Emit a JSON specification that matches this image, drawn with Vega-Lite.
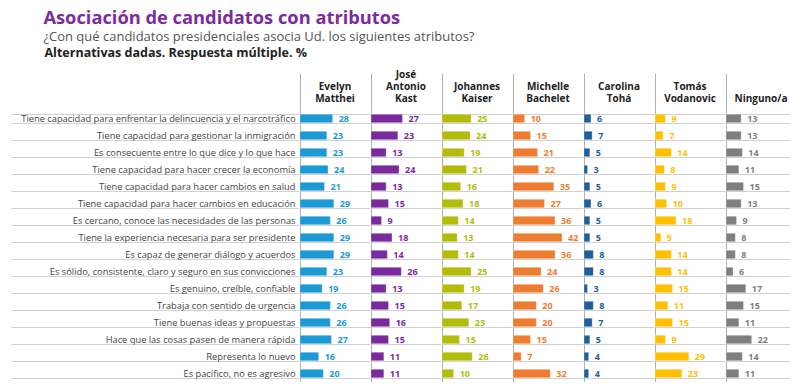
{
  "$schema": "https://vega.github.io/schema/vega-lite/v6.json",
  "padding": {"left": 10, "top": 8, "right": 0, "bottom": 0},
  "background": "white",
  "title": {
    "text": "Asociación de candidatos con atributos",
    "subtitle": ["¿Con qué candidatos presidenciales asocia Ud. los siguientes atributos?"],
    "anchor": "start",
    "dx": 33,
    "font": "Open Sans",
    "fontSize": 18.3,
    "fontWeight": "bold",
    "color": "#7B2C9E",
    "subtitleFont": "Open Sans",
    "subtitleFontSize": 13,
    "subtitleColor": "#555555",
    "subtitlePadding": 3,
    "offset": 1
  },
  "data": {"values": [
    {"a":"Tiene capacidad para enfrentar la delincuencia y el narcotráfico","c":"Evelyn Matthei","v":28},
    {"a":"Tiene capacidad para gestionar la inmigración","c":"Evelyn Matthei","v":23},
    {"a":"Es consecuente entre lo que dice y lo que hace","c":"Evelyn Matthei","v":23},
    {"a":"Tiene capacidad para hacer crecer la economía","c":"Evelyn Matthei","v":24},
    {"a":"Tiene capacidad para hacer cambios en salud","c":"Evelyn Matthei","v":21},
    {"a":"Tiene capacidad para hacer cambios en educación","c":"Evelyn Matthei","v":29},
    {"a":"Es cercano, conoce las necesidades de las personas","c":"Evelyn Matthei","v":26},
    {"a":"Tiene la experiencia necesaria para ser presidente","c":"Evelyn Matthei","v":29},
    {"a":"Es capaz de generar diálogo y acuerdos","c":"Evelyn Matthei","v":29},
    {"a":"Es sólido, consistente, claro y seguro en sus convicciones","c":"Evelyn Matthei","v":23},
    {"a":"Es genuino, creíble, confiable","c":"Evelyn Matthei","v":19},
    {"a":"Trabaja con sentido de urgencia","c":"Evelyn Matthei","v":26},
    {"a":"Tiene buenas ideas y propuestas","c":"Evelyn Matthei","v":26},
    {"a":"Hace que las cosas pasen de manera rápida","c":"Evelyn Matthei","v":27},
    {"a":"Representa lo nuevo","c":"Evelyn Matthei","v":16},
    {"a":"Es pacífico, no es agresivo","c":"Evelyn Matthei","v":20},

    {"a":"Tiene capacidad para enfrentar la delincuencia y el narcotráfico","c":"José Antonio Kast","v":27},
    {"a":"Tiene capacidad para gestionar la inmigración","c":"José Antonio Kast","v":23},
    {"a":"Es consecuente entre lo que dice y lo que hace","c":"José Antonio Kast","v":13},
    {"a":"Tiene capacidad para hacer crecer la economía","c":"José Antonio Kast","v":24},
    {"a":"Tiene capacidad para hacer cambios en salud","c":"José Antonio Kast","v":13},
    {"a":"Tiene capacidad para hacer cambios en educación","c":"José Antonio Kast","v":15},
    {"a":"Es cercano, conoce las necesidades de las personas","c":"José Antonio Kast","v":9},
    {"a":"Tiene la experiencia necesaria para ser presidente","c":"José Antonio Kast","v":18},
    {"a":"Es capaz de generar diálogo y acuerdos","c":"José Antonio Kast","v":14},
    {"a":"Es sólido, consistente, claro y seguro en sus convicciones","c":"José Antonio Kast","v":26},
    {"a":"Es genuino, creíble, confiable","c":"José Antonio Kast","v":13},
    {"a":"Trabaja con sentido de urgencia","c":"José Antonio Kast","v":15},
    {"a":"Tiene buenas ideas y propuestas","c":"José Antonio Kast","v":16},
    {"a":"Hace que las cosas pasen de manera rápida","c":"José Antonio Kast","v":15},
    {"a":"Representa lo nuevo","c":"José Antonio Kast","v":11},
    {"a":"Es pacífico, no es agresivo","c":"José Antonio Kast","v":11},

    {"a":"Tiene capacidad para enfrentar la delincuencia y el narcotráfico","c":"Johannes Kaiser","v":25},
    {"a":"Tiene capacidad para gestionar la inmigración","c":"Johannes Kaiser","v":24},
    {"a":"Es consecuente entre lo que dice y lo que hace","c":"Johannes Kaiser","v":19},
    {"a":"Tiene capacidad para hacer crecer la economía","c":"Johannes Kaiser","v":21},
    {"a":"Tiene capacidad para hacer cambios en salud","c":"Johannes Kaiser","v":16},
    {"a":"Tiene capacidad para hacer cambios en educación","c":"Johannes Kaiser","v":18},
    {"a":"Es cercano, conoce las necesidades de las personas","c":"Johannes Kaiser","v":14},
    {"a":"Tiene la experiencia necesaria para ser presidente","c":"Johannes Kaiser","v":13},
    {"a":"Es capaz de generar diálogo y acuerdos","c":"Johannes Kaiser","v":14},
    {"a":"Es sólido, consistente, claro y seguro en sus convicciones","c":"Johannes Kaiser","v":25},
    {"a":"Es genuino, creíble, confiable","c":"Johannes Kaiser","v":19},
    {"a":"Trabaja con sentido de urgencia","c":"Johannes Kaiser","v":17},
    {"a":"Tiene buenas ideas y propuestas","c":"Johannes Kaiser","v":23},
    {"a":"Hace que las cosas pasen de manera rápida","c":"Johannes Kaiser","v":15},
    {"a":"Representa lo nuevo","c":"Johannes Kaiser","v":26},
    {"a":"Es pacífico, no es agresivo","c":"Johannes Kaiser","v":10},

    {"a":"Tiene capacidad para enfrentar la delincuencia y el narcotráfico","c":"Michelle Bachelet","v":10},
    {"a":"Tiene capacidad para gestionar la inmigración","c":"Michelle Bachelet","v":15},
    {"a":"Es consecuente entre lo que dice y lo que hace","c":"Michelle Bachelet","v":21},
    {"a":"Tiene capacidad para hacer crecer la economía","c":"Michelle Bachelet","v":22},
    {"a":"Tiene capacidad para hacer cambios en salud","c":"Michelle Bachelet","v":35},
    {"a":"Tiene capacidad para hacer cambios en educación","c":"Michelle Bachelet","v":27},
    {"a":"Es cercano, conoce las necesidades de las personas","c":"Michelle Bachelet","v":36},
    {"a":"Tiene la experiencia necesaria para ser presidente","c":"Michelle Bachelet","v":42},
    {"a":"Es capaz de generar diálogo y acuerdos","c":"Michelle Bachelet","v":36},
    {"a":"Es sólido, consistente, claro y seguro en sus convicciones","c":"Michelle Bachelet","v":24},
    {"a":"Es genuino, creíble, confiable","c":"Michelle Bachelet","v":26},
    {"a":"Trabaja con sentido de urgencia","c":"Michelle Bachelet","v":20},
    {"a":"Tiene buenas ideas y propuestas","c":"Michelle Bachelet","v":20},
    {"a":"Hace que las cosas pasen de manera rápida","c":"Michelle Bachelet","v":15},
    {"a":"Representa lo nuevo","c":"Michelle Bachelet","v":7},
    {"a":"Es pacífico, no es agresivo","c":"Michelle Bachelet","v":32},

    {"a":"Tiene capacidad para enfrentar la delincuencia y el narcotráfico","c":"Carolina Tohá","v":6},
    {"a":"Tiene capacidad para gestionar la inmigración","c":"Carolina Tohá","v":7},
    {"a":"Es consecuente entre lo que dice y lo que hace","c":"Carolina Tohá","v":5},
    {"a":"Tiene capacidad para hacer crecer la economía","c":"Carolina Tohá","v":3},
    {"a":"Tiene capacidad para hacer cambios en salud","c":"Carolina Tohá","v":5},
    {"a":"Tiene capacidad para hacer cambios en educación","c":"Carolina Tohá","v":6},
    {"a":"Es cercano, conoce las necesidades de las personas","c":"Carolina Tohá","v":5},
    {"a":"Tiene la experiencia necesaria para ser presidente","c":"Carolina Tohá","v":5},
    {"a":"Es capaz de generar diálogo y acuerdos","c":"Carolina Tohá","v":8},
    {"a":"Es sólido, consistente, claro y seguro en sus convicciones","c":"Carolina Tohá","v":8},
    {"a":"Es genuino, creíble, confiable","c":"Carolina Tohá","v":3},
    {"a":"Trabaja con sentido de urgencia","c":"Carolina Tohá","v":8},
    {"a":"Tiene buenas ideas y propuestas","c":"Carolina Tohá","v":7},
    {"a":"Hace que las cosas pasen de manera rápida","c":"Carolina Tohá","v":5},
    {"a":"Representa lo nuevo","c":"Carolina Tohá","v":4},
    {"a":"Es pacífico, no es agresivo","c":"Carolina Tohá","v":4},

    {"a":"Tiene capacidad para enfrentar la delincuencia y el narcotráfico","c":"Tomás Vodanovic","v":9},
    {"a":"Tiene capacidad para gestionar la inmigración","c":"Tomás Vodanovic","v":7},
    {"a":"Es consecuente entre lo que dice y lo que hace","c":"Tomás Vodanovic","v":14},
    {"a":"Tiene capacidad para hacer crecer la economía","c":"Tomás Vodanovic","v":8},
    {"a":"Tiene capacidad para hacer cambios en salud","c":"Tomás Vodanovic","v":9},
    {"a":"Tiene capacidad para hacer cambios en educación","c":"Tomás Vodanovic","v":10},
    {"a":"Es cercano, conoce las necesidades de las personas","c":"Tomás Vodanovic","v":18},
    {"a":"Tiene la experiencia necesaria para ser presidente","c":"Tomás Vodanovic","v":5},
    {"a":"Es capaz de generar diálogo y acuerdos","c":"Tomás Vodanovic","v":14},
    {"a":"Es sólido, consistente, claro y seguro en sus convicciones","c":"Tomás Vodanovic","v":14},
    {"a":"Es genuino, creíble, confiable","c":"Tomás Vodanovic","v":15},
    {"a":"Trabaja con sentido de urgencia","c":"Tomás Vodanovic","v":11},
    {"a":"Tiene buenas ideas y propuestas","c":"Tomás Vodanovic","v":15},
    {"a":"Hace que las cosas pasen de manera rápida","c":"Tomás Vodanovic","v":9},
    {"a":"Representa lo nuevo","c":"Tomás Vodanovic","v":29},
    {"a":"Es pacífico, no es agresivo","c":"Tomás Vodanovic","v":23},

    {"a":"Tiene capacidad para enfrentar la delincuencia y el narcotráfico","c":"Ninguno/a","v":13},
    {"a":"Tiene capacidad para gestionar la inmigración","c":"Ninguno/a","v":13},
    {"a":"Es consecuente entre lo que dice y lo que hace","c":"Ninguno/a","v":14},
    {"a":"Tiene capacidad para hacer crecer la economía","c":"Ninguno/a","v":11},
    {"a":"Tiene capacidad para hacer cambios en salud","c":"Ninguno/a","v":15},
    {"a":"Tiene capacidad para hacer cambios en educación","c":"Ninguno/a","v":13},
    {"a":"Es cercano, conoce las necesidades de las personas","c":"Ninguno/a","v":9},
    {"a":"Tiene la experiencia necesaria para ser presidente","c":"Ninguno/a","v":8},
    {"a":"Es capaz de generar diálogo y acuerdos","c":"Ninguno/a","v":8},
    {"a":"Es sólido, consistente, claro y seguro en sus convicciones","c":"Ninguno/a","v":6},
    {"a":"Es genuino, creíble, confiable","c":"Ninguno/a","v":17},
    {"a":"Trabaja con sentido de urgencia","c":"Ninguno/a","v":15},
    {"a":"Tiene buenas ideas y propuestas","c":"Ninguno/a","v":11},
    {"a":"Hace que las cosas pasen de manera rápida","c":"Ninguno/a","v":22},
    {"a":"Representa lo nuevo","c":"Ninguno/a","v":14},
    {"a":"Es pacífico, no es agresivo","c":"Ninguno/a","v":11}
  ]},
  "facet": {
    "column": {
      "field": "c",
      "type": "nominal",
      "sort": ["Evelyn Matthei","José Antonio Kast","Johannes Kaiser","Michelle Bachelet","Carolina Tohá","Tomás Vodanovic","Ninguno/a"],
      "header": {
        "title": null,
        "labelExpr": "split(datum.value, ' ')",
        "labelFont": "Open Sans",
        "labelFontSize": 10,
        "labelFontWeight": "bold",
        "labelColor": "#222222",
        "labelLineHeight": 12,
        "labelBaseline": "middle",
        "labelPadding": -36
      }
    }
  },
  "spacing": 0,
  "spec": {
    "width": 70,
    "height": 272,
    "layer": [
      {
        "mark": {"type": "bar", "strokeWidth": 0.6, "stroke": "#ffffff", "strokeOpacity": 0.5},
        "encoding": {
          "y": {
            "field": "a",
            "type": "nominal",
            "sort": null,
            "title": "Alternativas dadas. Respuesta múltiple. %",
            "scale": {"paddingInner": 0.5, "paddingOuter": 0.25},
            "axis": {
              "orient": "left",
              "domain": false,
              "ticks": true,
              "tickBand": "extent",
              "tickSize": 288,
              "tickColor": "#d0d0d0",
              "tickWidth": 1.2,
              "labelPadding": -284,
              "labelFont": "Open Sans",
              "labelFontSize": 9.3,
              "labelColor": "#444444",
              "labelLimit": 300,
              "grid": true,
              "gridColor": "#d0d0d0",
              "gridWidth": 1.2,
              "titleAngle": 0,
              "titleAlign": "left",
              "titleBaseline": "alphabetic",
              "titleX": -255,
              "titleY": -54,
              "titleFont": "Open Sans",
              "titleFontSize": 12.5,
              "titleFontWeight": "bold",
              "titleColor": "#222222"
            }
          },
          "x": {
            "field": "v",
            "type": "quantitative",
            "title": null,
            "scale": {"domain": [0, 60]},
            "axis": {
              "orient": "top",
              "values": [0],
              "labels": false,
              "domain": false,
              "ticks": true,
              "tickSize": 37,
              "tickColor": "#b0b0b0",
              "grid": true,
              "gridColor": "#b0b0b0",
              "gridWidth": 1
            }
          },
          "color": {
            "field": "c",
            "type": "nominal",
            "legend": null,
            "scale": {
              "domain": ["Evelyn Matthei","José Antonio Kast","Johannes Kaiser","Michelle Bachelet","Carolina Tohá","Tomás Vodanovic","Ninguno/a"],
              "range": ["#1C9AD6","#7B2A9E","#B3BC0A","#EE7D31","#1E5F9C","#FFC000","#7F7F7F"]
            }
          }
        }
      },
      {
        "mark": {"type": "text", "align": "left", "dx": 6, "font": "Open Sans", "fontSize": 9, "fontWeight": "bold"},
        "encoding": {
          "y": {"field": "a", "type": "nominal", "sort": null},
          "x": {"field": "v", "type": "quantitative"},
          "text": {"field": "v", "type": "quantitative"},
          "color": {"field": "c", "type": "nominal", "legend": null}
        }
      }
    ]
  },
  "config": {
    "view": {"stroke": null},
    "axis": {"labelFont": "Open Sans"}
  }
}
